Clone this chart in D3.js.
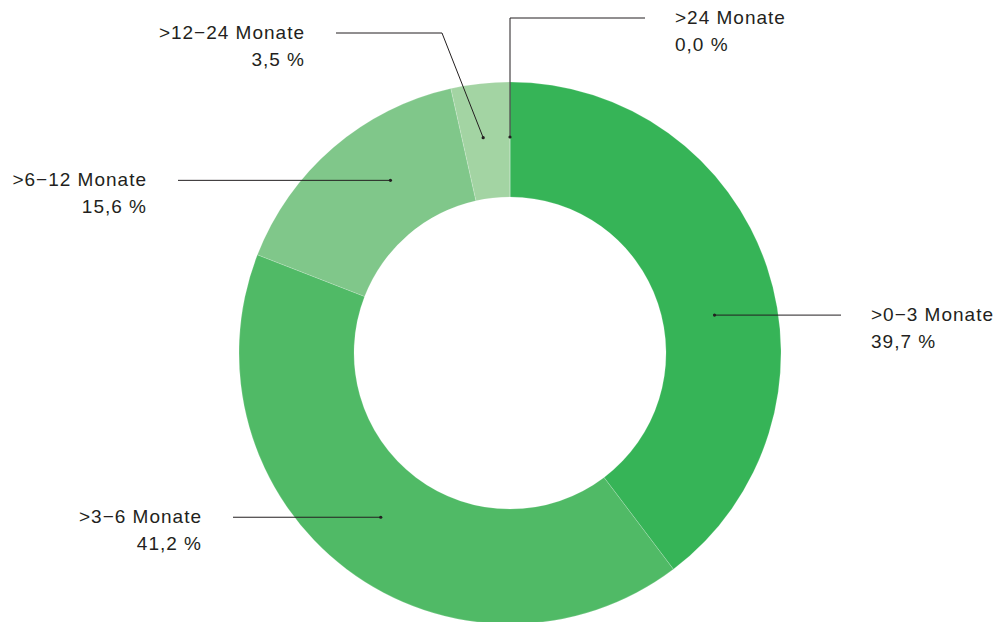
<!DOCTYPE html>
<html>
<head>
<meta charset="utf-8">
<script src="https://cdn.jsdelivr.net/npm/d3@7"></script>
<style>
  body { margin: 0; background: #fff; }
  svg { display: block; }
  text { font-family: "Liberation Sans", Arial, Helvetica, sans-serif; fill: #231f20; }
</style>
</head>
<body>
<div id="chart"></div>
<script>
const categories = [">0\u22123 Monate", ">3\u22126 Monate", ">6\u221212 Monate", ">12\u221224 Monate", ">24 Monate"];
const shares = [39.7, 41.2, 15.6, 3.5, 0.0];
const colors = ["#36b457", "#50ba66", "#80c78a", "#a3d4a3", "#c8e6c8"];

// label placement: anchor angle (deg, clockwise from top) and radius of the dot,
// then the leader line bends and where the text sits
const labelLayout = [
    {angle: 79.5, r: 208, bends: [], endX: 841, side: "right"},
    {angle: 218.2, r: 209, bends: [], endX: 233, side: "left"},
    {angle: 325.3, r: 210, bends: [], endX: 178, side: "left"},
    {angle: 352.9, r: 217, bends: [[442, 33]], endX: 336, side: "left"},
    {angle: 0, r: 216, bends: [[510, 18]], endX: 645, side: "right"}
];

const width = 1000, height = 622;
const cx = 510, cy = 353;
const outerR = 271, innerR = 156;

const svg = d3.select('#chart').append('svg')
    .attr('width', width)
    .attr('height', height);

const g = svg.append('g')
    .attr('transform', `translate(${cx},${cy})`);

const data = categories.map((c, i) => ({name: c, value: shares[i], color: colors[i], layout: labelLayout[i]}));

const pie = d3.pie()
    .sort(null)
    .value(d => d.value);

const arc = d3.arc()
    .innerRadius(innerR)
    .outerRadius(outerR);

g.selectAll('.slice')
    .data(pie(data))
    .enter().append('path')
    .attr('class', 'slice')
    .attr('d', arc)
    .attr('fill', d => d.data.color)
    .attr('stroke', '#fff')
    .attr('stroke-opacity', 0.35)
    .attr('stroke-width', 0.5);

const fmt = v => v.toFixed(1).replace('.', ',') + ' %';

data.forEach(d => {
    const L = d.layout;
    const a = L.angle * Math.PI / 180;
    const dot = [cx + L.r * Math.sin(a), cy - L.r * Math.cos(a)];
    const pts = [dot].concat(L.bends);
    const lastY = pts[pts.length - 1][1];
    pts.push([L.endX, lastY]);

    svg.append('path')
        .attr('d', d3.line()(pts))
        .attr('fill', 'none')
        .attr('stroke', '#231f20')
        .attr('stroke-width', 1);

    svg.append('circle')
        .attr('cx', dot[0])
        .attr('cy', dot[1])
        .attr('r', 1.6)
        .attr('fill', '#231f20');

    const right = L.side === 'right';
    const tx = right ? L.endX + 30 : L.endX - 31;
    const t = svg.append('text')
        .attr('x', tx)
        .attr('y', lastY + 6)
        .attr('text-anchor', right ? 'start' : 'end')
        .style('font-size', '19px')
        .style('letter-spacing', '1px');
    t.append('tspan').attr('x', tx).attr('dy', 0).text(d.name);
    t.append('tspan').attr('x', tx).attr('dy', 27).text(fmt(d.value));
});
</script>
</body>
</html>
